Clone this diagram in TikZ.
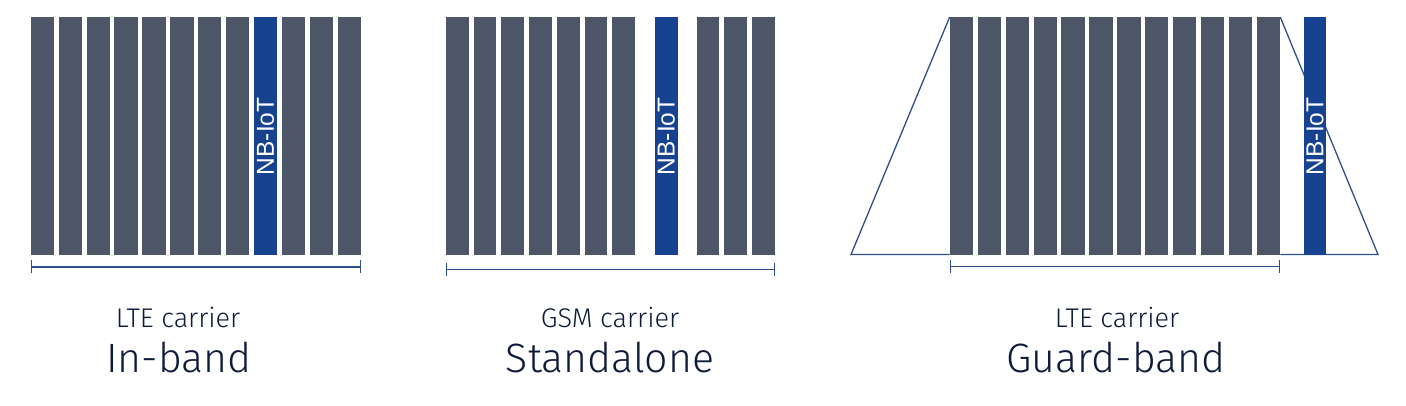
\documentclass[tikz,border=0pt]{standalone}
\usepackage{fontspec}
\setmainfont{Fira Sans Light}
\newfontfamily\nbfont{Liberation Sans}
\usetikzlibrary{arrows.meta}
\definecolor{bargray}{HTML}{4C5666}
\definecolor{nbblue}{HTML}{17428F}
\definecolor{linebl}{HTML}{2F4E8E}
\definecolor{textnavy}{HTML}{0E1A3A}

\begin{document}
\begin{tikzpicture}[x=1pt,y=-1pt,node distance=27.9pt]
\tikzstyle{bar}=[rectangle,fill=bargray,draw=none,inner sep=0pt,minimum width=23.3pt,minimum height=238pt]
\tikzstyle{nb}=[bar,fill=nbblue,text=white,font=\nbfont\fontsize{24.5}{24.5}\selectfont]
\tikzstyle{span}=[draw=linebl,line width=1.3pt,{Bar[width=13pt]}-{Bar[width=13pt]}]
\tikzstyle{guard}=[draw=linebl,line width=1.3pt]
\tikzset{carrier/.style={anchor=base,text=textnavy,font=\fontsize{27}{27}\selectfont},
         mode/.style={anchor=base,text=textnavy,font=\fontsize{41}{41}\selectfont}}

\useasboundingbox (0,0) rectangle (1406,406);

        % in-band
        \node[bar]                (a1)  at (42.4,136.3) {};
        \node[bar]                (a2)  [right of=a1]   {};
        \node[bar]                (a3)  [right of=a2]   {};
        \node[bar]                (a4)  [right of=a3]   {};
        \node[bar]                (a5)  [right of=a4]   {};
        \node[bar]                (a6)  [right of=a5]   {};
        \node[bar]                (a7)  [right of=a6]   {};
        \node[bar]                (a8)  [right of=a7]   {};
        \node[nb]                 (a9)  [right of=a8]   {\rotatebox{90}{NB-IoT}};
        \node[bar]                (a10) [right of=a9]   {};
        \node[bar]                (a11) [right of=a10]  {};
        \node[bar]                (a12) [right of=a11]  {};

        \draw[span] ([yshift=-11.4pt]a1.south west) -- ([yshift=-11.4pt]a12.south east);

        \node[carrier]            (lte1)   at (178,327) {LTE carrier};
        \node[mode]               (inband) at (179,372) {In-band};

        % standalone
        \node[bar, minimum width=22.7pt]   (b1)  at (457.4,136.3) {};
        \node[bar, minimum width=22.7pt, node distance=27.7pt]   (b2)  [right of=b1] {};
        \node[bar, minimum width=22.7pt, node distance=27.7pt]   (b3)  [right of=b2] {};
        \node[bar, minimum width=22.7pt, node distance=27.7pt]   (b4)  [right of=b3] {};
        \node[bar, minimum width=22.7pt, node distance=27.7pt]   (b5)  [right of=b4] {};
        \node[bar, minimum width=22.7pt, node distance=27.7pt]   (b6)  [right of=b5] {};
        \node[bar, minimum width=22.7pt, node distance=27.7pt]   (b7)  [right of=b6] {};
        \node[nb,  minimum width=22.7pt, node distance=42.8pt]   (b8)  [right of=b7] {\rotatebox{90}{NB-IoT}};
        \node[bar, minimum width=22.7pt, node distance=41.6pt]   (b9)  [right of=b8] {};
        \node[bar, minimum width=22.7pt, node distance=27.7pt]   (b10) [right of=b9] {};
        \node[bar, minimum width=22.7pt, node distance=27.7pt]   (b11) [right of=b10] {};

        \draw[span] ([yshift=-14pt]b1.south west) -- ([yshift=-14pt]b11.south east);

        \node[carrier]            (gsm)    at (610,327) {GSM carrier};
        \node[mode]               (stand)  at (610,372) {Standalone};

        % guard-band
        \node[bar]                (c1)  at (961.5,136.3) {};
        \node[bar]                (c2)  [right of=c1]   {};
        \node[bar]                (c3)  [right of=c2]   {};
        \node[bar]                (c4)  [right of=c3]   {};
        \node[bar]                (c5)  [right of=c4]   {};
        \node[bar]                (c6)  [right of=c5]   {};
        \node[bar]                (c7)  [right of=c6]   {};
        \node[bar]                (c8)  [right of=c7]   {};
        \node[bar]                (c9)  [right of=c8]   {};
        \node[bar]                (c10) [right of=c9]   {};
        \node[bar]                (c11) [right of=c10]  {};
        \node[bar]                (c12) [right of=c11]  {};

        \coordinate (gl) at (851,254.5);
        \coordinate (gr) at (1378,254.5);
        \draw[guard] (c1.north west) -- (gl) -- (gl -| c1.west);
        \draw[guard] (c12.north east) -- (gr) -- (gr -| c12.east);

        \node[nb, minimum width=22.7pt, node distance=46.6pt]    (c13) [right of=c12] {\rotatebox{90}{NB-IoT}};

        \draw[span] ([yshift=-11pt]c1.south west) -- ([yshift=-11pt]c12.south east);

        \node[carrier]            (lte3)   at (1117,327) {LTE carrier};
        \node[mode]               (guardb) at (1116,372) {Guard-band};

\end{tikzpicture}
\end{document}
